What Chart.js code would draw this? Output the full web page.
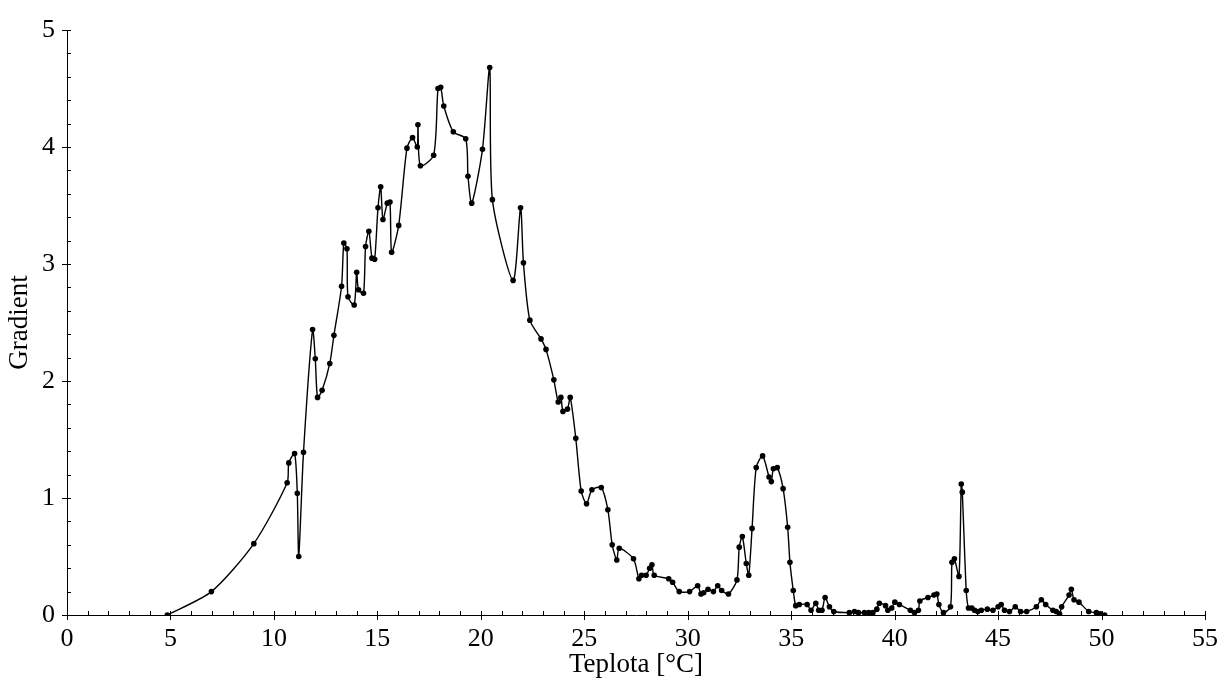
<!DOCTYPE html>
<html>
<head>
<meta charset="utf-8">
<script src="https://cdn.jsdelivr.net/npm/chart.js@4/dist/chart.umd.min.js"></script>
<style>
  html, body { margin: 0; padding: 0; background: #fff; }
  #wrap { width: 1222px; height: 685px; }
</style>
</head>
<body>
<div id="wrap"><canvas id="gradChart"></canvas></div>
<script>
// hodnoty
const teplota = [
  4.85, 6.98, 9.03, 10.64, 10.72, 11.00, 11.13, 11.20, 11.43, 11.87,
  12.00, 12.11, 12.33, 12.70, 12.90, 13.27, 13.38, 13.53, 13.58, 13.88,
  14.00, 14.09, 14.33, 14.43, 14.59, 14.74, 14.87, 15.03, 15.16, 15.27,
  15.48, 15.61, 15.69, 16.03, 16.43, 16.70, 16.93, 16.96, 17.08, 17.72,
  17.93, 18.06, 18.21, 18.67, 19.27, 19.38, 19.56, 20.08, 20.43, 20.56,
  21.56, 21.92, 22.06, 22.37, 22.91, 23.15, 23.53, 23.74, 23.87, 23.97,
  24.19, 24.32, 24.59, 24.85, 25.11, 25.37, 25.82, 26.14, 26.35, 26.57,
  26.69, 27.38, 27.64, 27.77, 27.99, 28.16, 28.27, 28.38, 29.08, 29.27,
  29.59, 30.09, 30.48, 30.64, 30.77, 30.98, 31.24, 31.45, 31.64, 31.97,
  32.38, 32.49, 32.64, 32.83, 32.95, 33.11, 33.31, 33.62, 33.93, 34.04,
  34.14, 34.33, 34.61, 34.83, 34.94, 35.10, 35.22, 35.39, 35.77, 35.96,
  36.19, 36.33, 36.49, 36.64, 36.85, 37.06, 37.81, 38.06, 38.25, 38.54,
  38.75, 38.95, 39.14, 39.26, 39.56, 39.67, 39.86, 40.01, 40.23, 40.76,
  40.96, 41.15, 41.22, 41.61, 41.90, 42.04, 42.14, 42.36, 42.70, 42.77,
  42.89, 43.11, 43.22, 43.27, 43.46, 43.57, 43.73, 43.86, 44.02, 44.19,
  44.48, 44.75, 45.00, 45.15, 45.31, 45.55, 45.83, 46.09, 46.38, 46.85,
  47.09, 47.30, 47.65, 47.81, 47.97, 48.07, 48.43, 48.54, 48.67, 48.91,
  49.38, 49.75, 49.94, 50.15
];
const gradient = [
  0.00, 0.20, 0.61, 1.13, 1.30, 1.38, 1.04, 0.50, 1.39, 2.44,
  2.19, 1.86, 1.92, 2.15, 2.39, 2.81, 3.18, 3.13, 2.72, 2.65,
  2.93, 2.78, 2.75, 3.15, 3.28, 3.05, 3.04, 3.48, 3.66, 3.38,
  3.52, 3.53, 3.10, 3.33, 3.99, 4.08, 4.00, 4.19, 3.84, 3.93,
  4.50, 4.51, 4.35, 4.13, 4.07, 3.75, 3.52, 3.98, 4.68, 3.55,
  2.86, 3.48, 3.01, 2.52, 2.36, 2.27, 2.01, 1.82, 1.86, 1.74,
  1.76, 1.86, 1.51, 1.06, 0.95, 1.07, 1.09, 0.90, 0.60, 0.47,
  0.57, 0.48, 0.31, 0.34, 0.34, 0.40, 0.43, 0.34, 0.31, 0.28,
  0.20, 0.20, 0.25, 0.18, 0.19, 0.22, 0.20, 0.25, 0.21, 0.18,
  0.30, 0.58, 0.67, 0.44, 0.34, 0.74, 1.26, 1.36, 1.18, 1.14,
  1.25, 1.26, 1.08, 0.75, 0.45, 0.21, 0.08, 0.09, 0.09, 0.04,
  0.10, 0.04, 0.04, 0.15, 0.07, 0.03, 0.02, 0.03, 0.02, 0.02,
  0.02, 0.02, 0.05, 0.10, 0.08, 0.04, 0.06, 0.11, 0.09, 0.04,
  0.02, 0.04, 0.12, 0.15, 0.17, 0.18, 0.09, 0.02, 0.07, 0.45,
  0.48, 0.33, 1.12, 1.05, 0.21, 0.06, 0.06, 0.04, 0.03, 0.04,
  0.05, 0.04, 0.07, 0.09, 0.04, 0.03, 0.07, 0.03, 0.03, 0.07,
  0.13, 0.09, 0.04, 0.03, 0.01, 0.07, 0.17, 0.22, 0.13, 0.11,
  0.03, 0.02, 0.01, 0.00
];
const xTicks = [0, 5, 10, 15, 20, 25, 30, 35, 40, 45, 50, 55];
const yTicks = [0, 1, 2, 3, 4, 5];

const body = [];
for (let i = 0; i < teplota.length; i++) body.push({ x: teplota[i], y: gradient[i] });

// vlastní značky os (hlavní přes osu, vedlejší dovnitř)
const tickMarks = {
  id: 'tickMarks',
  afterDraw(chart) {
    const c = chart.ctx, xs = chart.scales.x, ys = chart.scales.y;
    const x0 = xs.getPixelForValue(0), y0 = ys.getPixelForValue(0);
    c.save();
    c.strokeStyle = '#000';
    c.lineWidth = 1;
    c.beginPath();
    for (let v = 0; v <= 55; v++) {
      const px = Math.round(xs.getPixelForValue(v)) + 0.5;
      if (v % 5 === 0) { c.moveTo(px, y0 - 4); c.lineTo(px, y0 + 5); }
      else { c.moveTo(px, y0 - 4); c.lineTo(px, y0); }
    }
    for (let k = 0; k <= 25; k++) {
      const py = Math.round(ys.getPixelForValue(k / 5)) + 0.5;
      if (k % 5 === 0) { c.moveTo(x0 - 5, py); c.lineTo(x0 + 4, py); }
      else { c.moveTo(x0, py); c.lineTo(x0 + 4, py); }
    }
    c.stroke();
    c.restore();
  }
};

const tickFont = { family: '"Liberation Serif", "Times New Roman", serif', size: 26 };
const titleFont = { family: '"Liberation Serif", "Times New Roman", serif', size: 27 };

new Chart(document.getElementById('gradChart').getContext('2d'), {
  type: 'line',
  data: {
    datasets: [{
      data: body,
      borderColor: '#000',
      backgroundColor: '#000',
      borderWidth: 1.4,
      pointRadius: 2.8,
      pointBorderWidth: 0,
      pointBackgroundColor: '#000',
      tension: 0.25,
      fill: false
    }]
  },
  options: {
    responsive: true,
    maintainAspectRatio: false,
    animation: false,
    layout: { padding: { top: 30, right: 17, left: 0, bottom: 0 } },
    plugins: { legend: { display: false }, tooltip: { enabled: false } },
    scales: {
      x: {
        type: 'linear',
        min: 0, max: 55,
        afterFit: s => { s.height = 70; s.paddingRight = 0; },
        afterBuildTicks: s => { s.ticks = xTicks.map(v => ({ value: v })); },
        grid: { display: false, drawTicks: false },
        border: { display: true, color: '#000', width: 1 },
        ticks: { color: '#000', font: tickFont, padding: 9, maxRotation: 0 },
        title: { display: true, text: 'Teplota [°C]', color: '#000', font: titleFont, padding: { top: 2 } }
      },
      y: {
        type: 'linear',
        min: 0, max: 5,
        afterFit: s => { s.width = 67; },
        afterBuildTicks: s => { s.ticks = yTicks.map(v => ({ value: v })); },
        grid: { display: false, drawTicks: false },
        border: { display: true, color: '#000', width: 1 },
        ticks: { color: '#000', font: tickFont, padding: 12 },
        title: { display: true, text: 'Gradient', color: '#000', font: titleFont, padding: { bottom: 0 } }
      }
    }
  },
  plugins: [tickMarks]
});
</script>
</body>
</html>
